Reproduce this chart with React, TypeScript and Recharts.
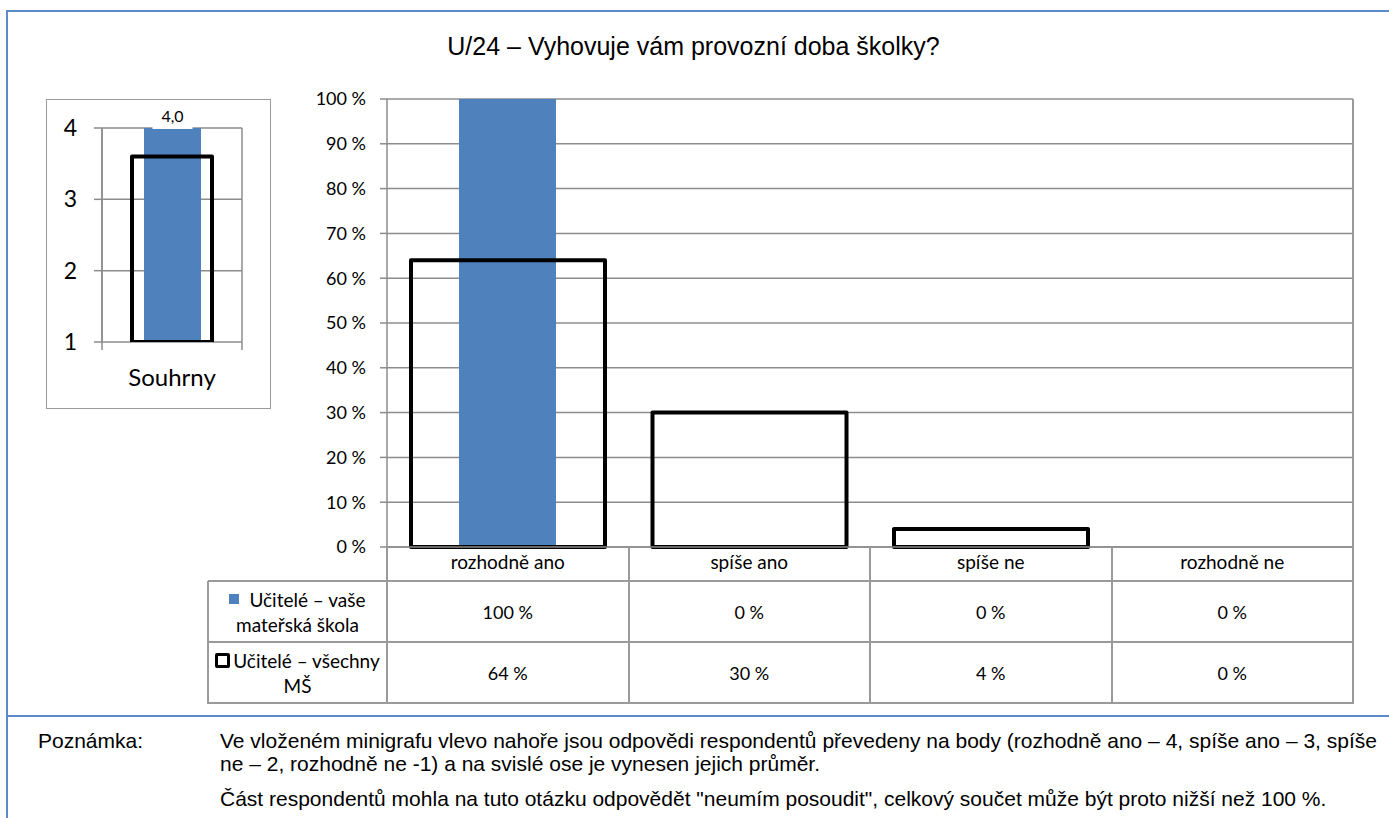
import React from 'react';
import { BarChart, Bar, XAxis, YAxis, CartesianGrid, LabelList } from 'recharts';

// ---------- data ----------
const title = 'U/24 – Vyhovuje vám provozní doba školky?';
const categories = ['rozhodně ano', 'spíše ano', 'spíše ne', 'rozhodně ne'];
const schoolValues = [100, 0, 0, 0];
const allValues = [64, 30, 4, 0];
const percentTicks = [0, 10, 20, 30, 40, 50, 60, 70, 80, 90, 100];
const legendLines = [
  ['Učitelé – vaše', 'mateřská škola'],
  ['Učitelé – všechny', 'MŠ'],
];
const summaryCategories = ['Souhrny'];
const summarySchool = [4.0];
const summaryAll = [3.6];
const summaryTicks = [1, 2, 3, 4];
const noteLabel = 'Poznámka:';
const noteLines = [
  'Ve vloženém minigrafu vlevo nahoře jsou odpovědi respondentů převedeny na body (rozhodně ano – 4, spíše ano – 3, spíše',
  'ne – 2, rozhodně ne -1) a na svislé ose je vynesen jejich průměr.',
  'Část respondentů mohla na tuto otázku odpovědět "neumím posoudit", celkový součet může být proto nižší než 100 %.',
];

// ---------- layout / style ----------
const W = 1389;
const H = 818;
const CHART_H = 720;
const PLOT_LEFT = 387;
const PLOT_RIGHT = 1353;
const PLOT_TOP = 99;
const PLOT_BOTTOM = 547;
const XAXIS_H = 34;
const TABLE_LEFT = 208;
const ROW_Y = [547, 581, 642, 703];
const GRID = '#8c8c8c';
const BLUE = '#4F81BD';
const FRAME = '#5b8bc9';
const FONT = 'Lato, "Open Sans", sans-serif';
const ARIAL = '"Liberation Sans", Arial, sans-serif';
const NUM = 18;
const WORD = 19;

const MINI_LEFT = 46;
const MINI_TOP = 99;
const MINI_W = 225;
const MINI_H = 310;
const MINI_YAXIS_W = 56;
const MINI_MARGIN = { top: 29, right: 29, bottom: 27, left: 0 };
const MINI_XAXIS_H = 40;
const MINI_PLOT_W = MINI_W - MINI_YAXIS_W - MINI_MARGIN.right;
const MINI_PLOT_H = MINI_H - MINI_MARGIN.top - MINI_MARGIN.bottom - MINI_XAXIS_H;
const MINI_HALF = MINI_PLOT_W / 2;

const mainData = categories.map((c, i) => ({ name: c, school: schoolValues[i], all: allValues[i] }));
const miniData = summaryCategories.map((c, i) => ({ name: c, school: summarySchool[i], all: summaryAll[i] }));
const pct = (v: number) => `${v} %`;

const MiniLabel = (props: any) => {
  const { x, y, width, value } = props;
  const cx = Number(x) + Number(width) / 2;
  const text = Number(value).toFixed(1).replace('.', ',');
  return (
    <g>
      <rect x={cx - 20} y={Number(y) - 21} width={40} height={22} fill="#fff" />
      <text x={cx} y={Number(y) - 6} textAnchor="middle" fontSize={16} fontFamily={FONT} fill="#000">
        {text}
      </text>
    </g>
  );
};

const MiniTick = (props: any) => {
  const { x, y, payload } = props;
  return (
    <g>
      <line x1={x - MINI_HALF} x2={x - MINI_HALF} y1={y - MINI_PLOT_H} y2={y + 8} stroke={GRID} strokeWidth={1.5} />
      <line x1={x + MINI_HALF} x2={x + MINI_HALF} y1={y - MINI_PLOT_H} y2={y + 8} stroke={GRID} strokeWidth={1.5} />
      <text x={x} y={y + 44} textAnchor="middle" fontSize={24} fontFamily={FONT} fill="#000">
        {payload.value}
      </text>
    </g>
  );
};

const hLine = (key: string, x1: number, x2: number, y: number) => (
  <div key={key} style={{ position: 'absolute', left: x1, top: y - 1, width: x2 - x1 + 1, height: 2, background: '#9a9a9a' }} />
);
const vLine = (key: string, x: number, y1: number, y2: number) => (
  <div key={key} style={{ position: 'absolute', left: x - 1, top: y1, width: 2, height: y2 - y1 + 1, background: '#9a9a9a' }} />
);

export default function App() {
  const colW = (PLOT_RIGHT - PLOT_LEFT) / categories.length;
  const colX = categories.map((_, i) => PLOT_LEFT + i * colW);
  const seriesRows = [schoolValues, allValues];

  return (
    <div style={{ position: 'absolute', left: 0, top: 0, width: W, height: H, background: '#fff', overflow: 'hidden' }}>
      {/* outer frame */}
      <div style={{ position: 'absolute', left: 6, top: 10, width: W, height: 2, background: FRAME }} />
      <div style={{ position: 'absolute', left: 6, top: 10, width: 2, height: H, background: FRAME }} />
      <div style={{ position: 'absolute', left: 6, top: 715, width: W, height: 2, background: FRAME }} />

      {/* title */}
      <div
        style={{
          position: 'absolute', left: 0, top: 31, width: W - 2, textAlign: 'center',
          fontFamily: ARIAL, fontSize: 25, color: '#000', lineHeight: '30px',
        }}
      >
        {title}
      </div>

      {/* main chart */}
      <div style={{ position: 'absolute', left: 0, top: 0 }}>
        <BarChart
          width={W}
          height={CHART_H}
          data={mainData}
          margin={{ top: PLOT_TOP, right: W - PLOT_RIGHT, bottom: CHART_H - PLOT_BOTTOM - XAXIS_H, left: 0 }}
        >
          <CartesianGrid xAxisId="a" stroke={GRID} strokeWidth={1.5} vertical={false} />
          <XAxis
            xAxisId="a"
            dataKey="name"
            height={XAXIS_H}
            interval={0}
            tickLine={false}
            tickSize={0}
            tickMargin={9}
            axisLine={{ stroke: GRID, strokeWidth: 1.5 }}
            tick={{ fill: '#000', fontSize: WORD, fontFamily: FONT }}
          />
          <XAxis xAxisId="b" dataKey="name" hide />
          <YAxis
            width={PLOT_LEFT}
            domain={[0, 100]}
            ticks={percentTicks}
            interval={0}
            tickFormatter={pct}
            tickSize={7}
            tickMargin={14}
            axisLine={{ stroke: GRID, strokeWidth: 1.5 }}
            tickLine={{ stroke: GRID, strokeWidth: 1.5 }}
            tick={{ fill: '#000', fontSize: NUM, fontFamily: FONT }}
          />
          <Bar xAxisId="a" dataKey="school" barSize={97} fill={BLUE} isAnimationActive={false} />
          <Bar
            xAxisId="b"
            dataKey="all"
            barSize={194}
            fill="none"
            stroke="#000"
            strokeWidth={4}
            strokeLinejoin="round"
            isAnimationActive={false}
          />
        </BarChart>
      </div>

      {/* right border of plot area */}
      {vLine('pr', PLOT_RIGHT, PLOT_TOP, PLOT_BOTTOM)}

      {/* data table lines */}
      {ROW_Y.slice(1).map((y, i) => hLine(`h${i}`, TABLE_LEFT, PLOT_RIGHT, y))}
      {vLine('tl', TABLE_LEFT, ROW_Y[1], ROW_Y[3])}
      {[...colX, PLOT_RIGHT].map((x, i) => vLine(`v${i}`, x, ROW_Y[0], ROW_Y[3]))}

      {/* legend cells */}
      {legendLines.map((lines, r) => (
        <div
          key={`lg${r}`}
          style={{
            position: 'absolute', left: TABLE_LEFT, top: ROW_Y[r + 1], width: PLOT_LEFT - TABLE_LEFT,
            height: ROW_Y[r + 2] - ROW_Y[r + 1], display: 'flex', flexDirection: 'column',
            justifyContent: 'center', alignItems: 'center', fontFamily: FONT, fontSize: WORD,
            lineHeight: '25px', color: '#000', whiteSpace: 'nowrap',
          }}
        >
          <div style={{ display: 'flex', alignItems: 'center' }}>
            {r === 0 ? (
              <span style={{ display: 'inline-block', width: 10, height: 10, background: BLUE, marginRight: 10 }} />
            ) : (
              <span
                style={{
                  display: 'inline-block', width: 9, height: 9, border: '3px solid #000', borderRadius: 2,
                  marginRight: 3, boxSizing: 'content-box',
                }}
              />
            )}
            <span>{lines[0]}</span>
          </div>
          <div>{lines[1]}</div>
        </div>
      ))}

      {/* value cells */}
      {seriesRows.map((vals, r) =>
        vals.map((v, c) => (
          <div
            key={`c${r}-${c}`}
            style={{
              position: 'absolute', left: colX[c], top: ROW_Y[r + 1], width: colW,
              height: ROW_Y[r + 2] - ROW_Y[r + 1], display: 'flex', alignItems: 'center',
              justifyContent: 'center', fontFamily: FONT, fontSize: NUM, color: '#000',
            }}
          >
            {pct(v)}
          </div>
        ))
      )}

      {/* mini chart */}
      <div
        style={{
          position: 'absolute', left: MINI_LEFT, top: MINI_TOP, width: MINI_W, height: MINI_H,
          boxSizing: 'border-box', border: '1.5px solid #9a9a9a', background: '#fff',
        }}
      />
      <div style={{ position: 'absolute', left: MINI_LEFT, top: MINI_TOP }}>
        <BarChart width={MINI_W} height={MINI_H} data={miniData} margin={MINI_MARGIN}>
          <CartesianGrid stroke={GRID} strokeWidth={1.5} vertical={false} />
          <XAxis
            xAxisId="a"
            dataKey="name"
            height={MINI_XAXIS_H}
            axisLine={false}
            tickLine={false}
            tickSize={0}
            tickMargin={0}
            tick={<MiniTick />}
          />
          <XAxis xAxisId="b" dataKey="name" hide />
          <YAxis
            width={MINI_YAXIS_W}
            domain={[1, 4]}
            ticks={summaryTicks}
            interval={0}
            allowDataOverflow
            tickSize={8}
            tickMargin={17}
            axisLine={{ stroke: GRID, strokeWidth: 1.5 }}
            tickLine={{ stroke: GRID, strokeWidth: 1.5 }}
            tick={{ fill: '#000', fontSize: 23, fontFamily: FONT }}
          />
          <Bar xAxisId="a" dataKey="school" barSize={57} fill={BLUE} isAnimationActive={false}>
            <LabelList dataKey="school" position="top" content={<MiniLabel />} />
          </Bar>
          <Bar
            xAxisId="b"
            dataKey="all"
            barSize={80}
            fill="none"
            stroke="#000"
            strokeWidth={4}
            strokeLinejoin="round"
            isAnimationActive={false}
          />
        </BarChart>
      </div>

      {/* note */}
      <div style={{ position: 'absolute', left: 38, top: 729, fontFamily: ARIAL, fontSize: 21, color: '#000', lineHeight: '24px' }}>
        {noteLabel}
      </div>
      {noteLines.map((line, i) => (
        <div
          key={`n${i}`}
          style={{
            position: 'absolute', left: 220, top: [729, 752, 787][i], fontFamily: ARIAL, fontSize: 21,
            color: '#000', lineHeight: '24px', whiteSpace: 'nowrap',
          }}
        >
          {line}
        </div>
      ))}
    </div>
  );
}
